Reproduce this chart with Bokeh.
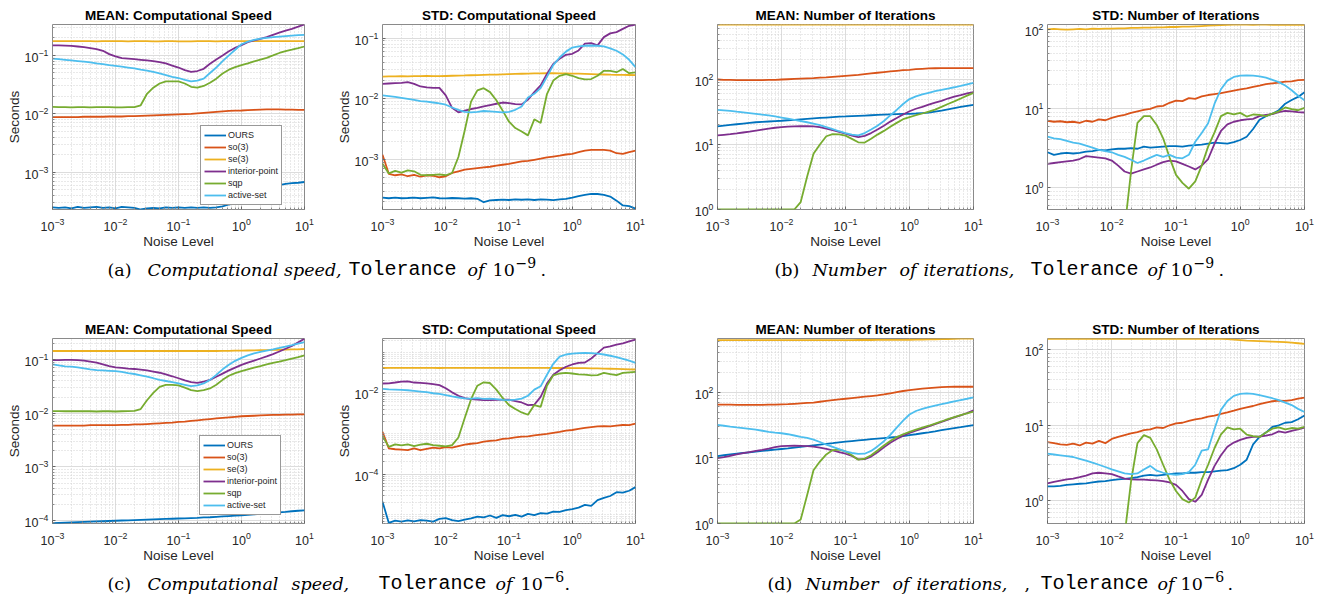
from bokeh.plotting import figure
from bokeh.layouts import column, row
from bokeh.models import Range1d, FixedTicker, Legend, LegendItem
from bokeh.core.properties import value
from bokeh.embed import file_html
from bokeh.resources import INLINE

NAN = float("nan")

# ---------------- data ----------------
NOISE_EXP = [-3.0, -2.9, -2.8, -2.7, -2.6, -2.5, -2.4, -2.3, -2.2, -2.1,
             -2.0, -1.9, -1.8, -1.7, -1.6, -1.5, -1.4, -1.3, -1.2, -1.1,
             -1.0, -0.9, -0.8, -0.7, -0.6, -0.5, -0.4, -0.3, -0.2, -0.1,
             0.0, 0.1, 0.2, 0.3, 0.4, 0.5, 0.6, 0.7, 0.8, 0.9,
             1.0]
NOISE = [10.0 ** e for e in NOISE_EXP]

METHODS = ["OURS", "so(3)", "se(3)", "interior-point", "sqp", "active-set"]
COLORS = ["#0072BD", "#D95319", "#EDB120", "#7E2F8E", "#77AC30", "#4DBEEE"]

X_TICKS = [1e-3, 1e-2, 1e-1, 1e0, 1e1]

# (a) MEAN computational speed, tolerance 1e-9
a_mean_ours = [2.50e-4, 2.45e-4, 2.50e-4, 2.40e-4, 2.55e-4, 2.45e-4, 2.50e-4, 2.55e-4, 2.45e-4, 2.50e-4,
               2.40e-4, 2.55e-4, 2.50e-4, 2.45e-4, 2.30e-4, 2.40e-4, 2.45e-4, 2.40e-4, 2.50e-4, 2.45e-4,
               2.50e-4, 2.45e-4, 2.50e-4, 2.45e-4, 2.50e-4, 2.45e-4, 2.50e-4, 2.60e-4, 2.80e-4, 3.00e-4,
               3.30e-4, 3.80e-4, 4.30e-4, 4.80e-4, 5.30e-4, 5.70e-4, 6.00e-4, 6.30e-4, 6.50e-4, 6.60e-4,
               6.80e-4]
a_mean_so3 = [0.0088, 0.0088, 0.0088, 0.0088, 0.0088, 0.0089, 0.0089, 0.0089, 0.0089, 0.0090,
              0.0090, 0.0090, 0.0091, 0.0091, 0.0092, 0.0093, 0.0094, 0.0095, 0.0096, 0.0097,
              0.0098, 0.0099, 0.0100, 0.0102, 0.0104, 0.0106, 0.0108, 0.0110, 0.0112, 0.0113,
              0.0114, 0.0116, 0.0117, 0.0118, 0.0119, 0.0119, 0.0119, 0.0118, 0.0118, 0.0117,
              0.0117]
a_mean_se3 = [0.176, 0.175, 0.175, 0.176, 0.175, 0.175, 0.175, 0.174, 0.175, 0.175,
              0.175, 0.175, 0.174, 0.175, 0.175, 0.175, 0.174, 0.174, 0.175, 0.175,
              0.174, 0.174, 0.174, 0.175, 0.175, 0.175, 0.174, 0.175, 0.175, 0.176,
              0.176, 0.176, 0.176, 0.175, 0.176, 0.176, 0.176, 0.175, 0.175, 0.175,
              0.175]
a_mean_ip = [0.148, 0.148, 0.147, 0.145, 0.142, 0.138, 0.133, 0.128, 0.120, 0.105,
             0.096, 0.090, 0.088, 0.086, 0.084, 0.082, 0.080, 0.077, 0.073, 0.067,
             0.062, 0.056, 0.052, 0.054, 0.059, 0.072, 0.085, 0.100, 0.118, 0.135,
             0.150, 0.168, 0.180, 0.192, 0.205, 0.225, 0.245, 0.265, 0.285, 0.310,
             0.338]
a_mean_sqp = [0.0131, 0.0130, 0.0130, 0.0129, 0.0130, 0.0130, 0.0129, 0.0130, 0.0130, 0.0130,
              0.0129, 0.0129, 0.0130, 0.0130, 0.0140, 0.0220, 0.0280, 0.0330, 0.0360, 0.0360,
              0.0360, 0.0330, 0.0290, 0.0280, 0.0300, 0.0340, 0.0400, 0.0490, 0.0570, 0.0630,
              0.0680, 0.0730, 0.0790, 0.0850, 0.0910, 0.1000, 0.1100, 0.1180, 0.1250, 0.1330,
              0.1420]
a_mean_as = [0.088, 0.086, 0.084, 0.082, 0.080, 0.078, 0.076, 0.073, 0.071, 0.068,
             0.066, 0.064, 0.062, 0.060, 0.057, 0.055, 0.052, 0.049, 0.046, 0.043,
             0.041, 0.038, 0.036, 0.037, 0.040, 0.050, 0.062, 0.080, 0.100, 0.125,
             0.155, 0.172, 0.185, 0.193, 0.200, 0.205, 0.210, 0.214, 0.218, 0.222,
             0.225]

# (a) STD computational speed, tolerance 1e-9
a_std_ours = [2.35e-4, 2.30e-4, 2.35e-4, 2.30e-4, 2.32e-4, 2.36e-4, 2.30e-4, 2.34e-4, 2.38e-4, 2.30e-4,
              2.28e-4, 2.32e-4, 2.30e-4, 2.26e-4, 2.30e-4, 2.25e-4, 1.98e-4, 2.12e-4, 2.15e-4, 2.18e-4,
              2.15e-4, 2.20e-4, 2.17e-4, 2.20e-4, 2.15e-4, 2.20e-4, 2.18e-4, 2.14e-4, 2.20e-4, 2.25e-4,
              2.35e-4, 2.50e-4, 2.62e-4, 2.72e-4, 2.70e-4, 2.62e-4, 2.45e-4, 2.10e-4, 1.75e-4, 1.70e-4,
              1.55e-4]
a_std_so3 = [1.20e-3, 5.80e-4, 5.50e-4, 5.70e-4, 5.30e-4, 5.60e-4, 5.20e-4, 5.50e-4, 5.40e-4, 5.10e-4,
             5.30e-4, 6.00e-4, 6.40e-4, 6.80e-4, 7.00e-4, 7.20e-4, 7.40e-4, 7.60e-4, 7.90e-4, 8.20e-4,
             8.50e-4, 8.90e-4, 9.30e-4, 9.50e-4, 9.90e-4, 1.03e-3, 1.08e-3, 1.12e-3, 1.16e-3, 1.21e-3,
             1.24e-3, 1.32e-3, 1.40e-3, 1.44e-3, 1.44e-3, 1.44e-3, 1.40e-3, 1.27e-3, 1.24e-3, 1.32e-3,
             1.40e-3]
a_std_se3 = [0.0233, 0.0235, 0.0234, 0.0236, 0.0235, 0.0237, 0.0236, 0.0238, 0.0237, 0.0236,
             0.0238, 0.0240, 0.0242, 0.0243, 0.0245, 0.0246, 0.0248, 0.0250, 0.0251, 0.0253,
             0.0255, 0.0257, 0.0259, 0.0260, 0.0262, 0.0263, 0.0264, 0.0264, 0.0263, 0.0262,
             0.0261, 0.0260, 0.0258, 0.0256, 0.0254, 0.0252, 0.0250, 0.0249, 0.0248, 0.0247,
             0.0246]
a_std_ip = [0.0177, 0.0179, 0.0181, 0.0183, 0.0188, 0.0177, 0.0160, 0.0154, 0.0152, 0.0152,
            0.0114, 0.0071, 0.0060, 0.0064, 0.0068, 0.0071, 0.0075, 0.0079, 0.0083, 0.0087,
            0.0085, 0.0082, 0.0081, 0.0097, 0.0129, 0.0166, 0.0258, 0.0377, 0.0457, 0.0531,
            0.0552, 0.0627, 0.0810, 0.0830, 0.0760, 0.1040, 0.1200, 0.1260, 0.1420, 0.1600,
            0.1680]
a_std_sqp = [8.5e-4, 5.9e-4, 6.5e-4, 6.1e-4, 6.6e-4, 6.4e-4, 5.6e-4, 5.5e-4, 5.6e-4, 5.7e-4,
             5.5e-4, 6.0e-4, 1.1e-3, 3.0e-3, 9.0e-3, 0.0138, 0.0150, 0.0129, 0.0095, 0.0064,
             0.0042, 0.0033, 0.0029, 0.0025, 0.0046, 0.0040, 0.0120, 0.0200, 0.0240, 0.0255,
             0.0240, 0.0220, 0.0210, 0.0212, 0.0240, 0.0290, 0.0290, 0.0275, 0.0310, 0.0265,
             0.0272]
a_std_as = [0.0114, 0.0111, 0.0108, 0.0104, 0.0100, 0.0096, 0.0092, 0.0090, 0.0087, 0.0084,
            0.0080, 0.0072, 0.0066, 0.0061, 0.0060, 0.0061, 0.0063, 0.0062, 0.0061, 0.0060,
            0.0061, 0.0066, 0.0075, 0.0105, 0.0121, 0.0150, 0.0230, 0.0360, 0.0480, 0.0600,
            0.0700, 0.0735, 0.0750, 0.0757, 0.0750, 0.0730, 0.0680, 0.0620, 0.0540, 0.0440,
            0.0333]

# (b) MEAN number of iterations, tolerance 1e-9
b_mean_ours = [19.0, 19.5, 20.0, 20.5, 21.0, 21.5, 22.0, 22.3, 22.6, 22.9,
               23.2, 23.6, 24.0, 24.4, 24.8, 25.2, 25.6, 26.0, 26.4, 26.8,
               27.0, 27.3, 27.6, 27.9, 28.2, 28.5, 28.8, 29.1, 29.3, 29.5,
               29.7, 30.0, 30.5, 31.0, 32.0, 33.3, 34.8, 36.3, 37.8, 39.3,
               40.8]
b_mean_so3 = [100, 99, 99, 98, 98, 98, 98, 98, 99, 99,
              100, 101, 102, 103, 104, 105, 107, 108, 110, 112,
              114, 116, 118, 121, 124, 127, 130, 133, 136, 139,
              141, 144, 146, 148, 149, 150, 150, 150, 150, 150,
              150]
b_mean_se3 = [700, 701, 700, 700, 699, 700, 701, 700, 700, 700,
              700, 701, 700, 700, 700, 699, 700, 700, 701, 700,
              700, 700, 700, 701, 700, 700, 700, 701, 702, 701,
              701, 702, 701, 701, 702, 702, 701, 702, 702, 701,
              701]
b_mean_ip = [13.8, 14.1, 14.4, 14.8, 15.3, 15.8, 16.4, 17.0, 17.6, 18.1,
             18.5, 18.8, 19.0, 19.1, 19.1, 19.0, 18.5, 17.6, 16.6, 15.6,
             14.7, 13.7, 13.0, 13.6, 15.0, 17.0, 19.5, 22.5, 25.5, 29.0,
             32.5, 35.5, 38.0, 41.0, 44.0, 47.0, 51.0, 54.5, 57.5, 61.0,
             64.0]
b_mean_sqp = [1.0, 1.0, 1.0, 1.0, 1.0, 1.0, 1.0, 1.0, 1.0, 1.0,
              1.0, 1.0, 1.0, 1.3, 3.2, 7.2, 10.0, 13.4, 14.4, 14.3,
              13.7, 12.2, 10.8, 10.7, 12.3, 14.2, 16.2, 18.8, 21.5, 24.5,
              26.4, 28.2, 30.0, 32.0, 34.5, 38.0, 42.0, 46.0, 51.0, 56.5,
              62.4]
b_mean_as = [34.2, 33.5, 32.8, 32.0, 31.3, 30.5, 29.7, 28.8, 28.0, 27.0,
             26.0, 25.0, 24.0, 23.0, 22.0, 21.0, 19.8, 18.5, 17.2, 16.0,
             15.0, 14.2, 13.8, 15.0, 17.0, 19.5, 23.0, 28.0, 34.0, 42.0,
             50.0, 55.0, 59.0, 62.5, 66.0, 69.0, 72.5, 76.0, 80.0, 84.5,
             89.0]

# (b) STD number of iterations, tolerance 1e-9
b_std_ours = [2.80, 2.60, 2.70, 2.75, 2.70, 2.75, 2.85, 2.90, 3.00, 2.95,
              3.05, 3.10, 3.10, 3.15, 3.10, 3.30, 3.20, 3.25, 3.30, 3.35,
              3.35, 3.30, 3.40, 3.45, 3.50, 3.60, 3.70, 3.65, 3.60, 3.75,
              4.00, 4.40, 5.50, 7.20, 8.00, 8.60, 9.50, 11.5, 12.8, 14.0,
              16.0]
b_std_so3 = [7.0, 6.8, 6.9, 6.7, 6.8, 6.6, 7.0, 6.8, 7.3, 7.1,
             7.6, 8.0, 8.3, 8.8, 9.2, 9.6, 9.9, 10.6, 10.8, 11.8,
             12.6, 12.4, 13.5, 13.2, 14.2, 14.8, 15.2, 15.6, 16.2, 16.8,
             17.4, 18.0, 18.8, 19.5, 20.3, 20.8, 21.2, 21.8, 22.0, 22.8,
             23.0]
b_std_se3 = [100, 101, 100, 99, 100, 101, 100, 102, 101, 102,
             102, 103, 103, 104, 104, 105, 105, 106, 106, 107,
             107, 108, 108, 109, 110, 111, 112, 113, 114, 115,
             115, 115, 114, 115, 115, 114, 114, 115, 114, 114,
             114]
b_std_ip = [2.00, 2.05, 2.10, 2.15, 2.20, 2.30, 2.50, 2.45, 2.40, 2.35,
            2.20, 1.90, 1.60, 1.50, 1.60, 1.70, 1.80, 1.95, 2.10, 2.20,
            2.15, 2.00, 1.85, 1.70, 1.90, 2.30, 3.60, 5.20, 6.30, 6.80,
            7.10, 7.30, 7.40, 8.00, 8.30, 8.50, 9.00, 9.30, 9.20, 9.00,
            8.90]
b_std_sqp = [NAN, NAN, NAN, NAN, NAN, NAN, NAN, NAN, NAN, NAN,
             NAN, NAN, 0.30, 1.6, 6.6, 8.0, 8.0, 6.2, 4.2, 2.4,
             1.45, 1.15, 0.97, 1.2, 1.9, 3.3, 5.0, 8.0, 8.8, 8.4,
             8.8, 7.9, 8.4, 8.3, 8.0, 8.6, 9.2, 10.3, 9.8, 9.5,
             10.2]
b_std_as = [4.4, 4.2, 4.1, 3.9, 3.7, 3.6, 3.4, 3.2, 3.0, 2.9,
            2.8, 2.6, 2.45, 2.25, 2.05, 2.2, 2.4, 2.6, 2.45, 2.6,
            2.4, 2.35, 2.6, 3.8, 4.9, 6.5, 11.5, 17.5, 22.5, 25.0,
            26.0, 26.2, 26.0, 25.5, 24.5, 23.0, 21.5, 19.5, 17.0, 14.5,
            12.7]

# (c) MEAN computational speed, tolerance 1e-6
c_mean_ours = [8.9e-5, 9.0e-5, 9.1e-5, 9.2e-5, 9.3e-5, 9.4e-5, 9.5e-5, 9.6e-5, 9.7e-5, 9.8e-5,
               9.9e-5, 1.00e-4, 1.01e-4, 1.02e-4, 1.03e-4, 1.04e-4, 1.05e-4, 1.06e-4, 1.07e-4, 1.08e-4,
               1.09e-4, 1.10e-4, 1.11e-4, 1.12e-4, 1.14e-4, 1.15e-4, 1.17e-4, 1.19e-4, 1.21e-4, 1.23e-4,
               1.25e-4, 1.27e-4, 1.30e-4, 1.33e-4, 1.36e-4, 1.39e-4, 1.42e-4, 1.45e-4, 1.49e-4, 1.52e-4,
               1.55e-4]
c_mean_so3 = [0.0059, 0.0059, 0.0059, 0.0059, 0.0059, 0.0059, 0.0060, 0.0060, 0.0060, 0.0060,
              0.0060, 0.0061, 0.0061, 0.0062, 0.0062, 0.0063, 0.0064, 0.0065, 0.0066, 0.0067,
              0.0069, 0.0070, 0.0072, 0.0074, 0.0076, 0.0078, 0.0080, 0.0082, 0.0084, 0.0086,
              0.0088, 0.0089, 0.0090, 0.0091, 0.0092, 0.0093, 0.0093, 0.0094, 0.0094, 0.0095,
              0.0095]
c_mean_se3 = [0.145, 0.145, 0.145, 0.145, 0.145, 0.145, 0.145, 0.145, 0.145, 0.145,
              0.145, 0.145, 0.145, 0.145, 0.145, 0.145, 0.145, 0.145, 0.145, 0.145,
              0.145, 0.145, 0.145, 0.145, 0.145, 0.145, 0.145, 0.146, 0.146, 0.147,
              0.147, 0.148, 0.149, 0.150, 0.151, 0.152, 0.153, 0.154, 0.155, 0.156,
              0.158]
c_mean_ip = [0.098, 0.098, 0.099, 0.099, 0.098, 0.096, 0.092, 0.088, 0.082, 0.076,
             0.072, 0.070, 0.068, 0.067, 0.065, 0.063, 0.060, 0.057, 0.053, 0.049,
             0.045, 0.041, 0.038, 0.037, 0.039, 0.042, 0.048, 0.055, 0.063, 0.071,
             0.080, 0.088, 0.096, 0.105, 0.115, 0.127, 0.142, 0.160, 0.180, 0.210,
             0.246]
c_mean_sqp = [0.0110, 0.0110, 0.0109, 0.0109, 0.0109, 0.0110, 0.0109, 0.0108, 0.0109, 0.0109,
              0.0108, 0.0109, 0.0110, 0.0111, 0.0120, 0.0175, 0.0240, 0.0310, 0.0340, 0.0340,
              0.0330, 0.0300, 0.0270, 0.0260, 0.0270, 0.0290, 0.0340, 0.0420, 0.0500, 0.0560,
              0.0610, 0.0660, 0.0710, 0.0760, 0.0820, 0.0870, 0.0920, 0.0980, 0.1050, 0.1120,
              0.1200]
c_mean_as = [0.082, 0.078, 0.075, 0.074, 0.072, 0.069, 0.066, 0.064, 0.063, 0.062,
             0.061, 0.059, 0.056, 0.054, 0.051, 0.048, 0.045, 0.042, 0.040, 0.038,
             0.036, 0.034, 0.032, 0.033, 0.036, 0.042, 0.052, 0.066, 0.080, 0.095,
             0.108, 0.120, 0.131, 0.140, 0.148, 0.156, 0.165, 0.175, 0.187, 0.200,
             0.213]

# (c) STD computational speed, tolerance 1e-6
c_std_ours = [2.1e-5, 6.3e-6, 7.2e-6, 6.8e-6, 7.3e-6, 6.9e-6, 7.4e-6, 7.2e-6, 6.8e-6, 7.9e-6,
              8.3e-6, 7.4e-6, 7.0e-6, 7.6e-6, 8.2e-6, 9.0e-6, 8.6e-6, 9.6e-6, 8.4e-6, 9.8e-6,
              9.2e-6, 1.0e-5, 9.0e-6, 1.05e-5, 9.8e-6, 1.1e-5, 1.07e-5, 1.2e-5, 1.18e-5, 1.3e-5,
              1.38e-5, 1.5e-5, 1.75e-5, 1.65e-5, 2.3e-5, 2.6e-5, 2.9e-5, 3.6e-5, 3.5e-5, 3.9e-5,
              4.8e-5]
c_std_so3 = [1.1e-3, 4.3e-4, 4.1e-4, 4.0e-4, 3.9e-4, 4.3e-4, 3.9e-4, 4.2e-4, 4.5e-4, 4.3e-4,
             4.6e-4, 4.5e-4, 4.9e-4, 5.3e-4, 5.6e-4, 5.8e-4, 6.3e-4, 6.6e-4, 6.8e-4, 7.4e-4,
             7.6e-4, 8.0e-4, 8.4e-4, 8.5e-4, 9.0e-4, 9.4e-4, 9.8e-4, 1.04e-3, 1.1e-3, 1.18e-3,
             1.22e-3, 1.3e-3, 1.38e-3, 1.44e-3, 1.5e-3, 1.52e-3, 1.5e-3, 1.56e-3, 1.62e-3, 1.6e-3,
             1.75e-3]
c_std_se3 = [0.0410, 0.0412, 0.0411, 0.0413, 0.0412, 0.0411, 0.0412, 0.0413, 0.0412, 0.0410,
             0.0411, 0.0412, 0.0413, 0.0412, 0.0411, 0.0412, 0.0413, 0.0412, 0.0411, 0.0412,
             0.0412, 0.0413, 0.0412, 0.0411, 0.0412, 0.0412, 0.0411, 0.0410, 0.0411, 0.0410,
             0.0409, 0.0408, 0.0405, 0.0402, 0.0399, 0.0396, 0.0393, 0.0390, 0.0386, 0.0381,
             0.0376]
c_std_ip = [0.0170, 0.0172, 0.0180, 0.0190, 0.0192, 0.0180, 0.0176, 0.0172, 0.0165, 0.0155,
            0.0130, 0.0103, 0.0085, 0.0074, 0.0070, 0.0068, 0.0066, 0.0066, 0.0067, 0.0068,
            0.0068, 0.0063, 0.0058, 0.0050, 0.0051, 0.0080, 0.0170, 0.0280, 0.0360, 0.0440,
            0.0500, 0.0550, 0.0560, 0.0700, 0.0950, 0.1300, 0.1400, 0.1550, 0.1650, 0.1850,
            0.2050]
c_std_sqp = [8.6e-4, 4.7e-4, 5.4e-4, 5.1e-4, 5.4e-4, 4.9e-4, 5.3e-4, 5.6e-4, 5.2e-4, 5.0e-4,
             4.8e-4, 5.2e-4, 8.0e-4, 2.4e-3, 7.0e-3, 0.0150, 0.0182, 0.0175, 0.0120, 0.0075,
             0.0050, 0.0040, 0.0033, 0.0029, 0.0050, 0.0045, 0.0150, 0.0270, 0.0300, 0.0310,
             0.0300, 0.0285, 0.0280, 0.0270, 0.0275, 0.0310, 0.0290, 0.0275, 0.0310, 0.0320,
             0.0330]
c_std_as = [0.0125, 0.0122, 0.0120, 0.0118, 0.0116, 0.0112, 0.0108, 0.0104, 0.0098, 0.0094,
            0.0088, 0.0082, 0.0077, 0.0073, 0.0072, 0.0074, 0.0071, 0.0072, 0.0070, 0.0067,
            0.0066, 0.0068, 0.0072, 0.0085, 0.0120, 0.0145, 0.0280, 0.0520, 0.0780, 0.0880,
            0.0920, 0.0950, 0.0960, 0.0950, 0.0920, 0.0880, 0.0820, 0.0760, 0.0690, 0.0620,
            0.0550]

# (d) MEAN number of iterations, tolerance 1e-6
d_mean_ours = [10.7, 11.0, 11.3, 11.6, 11.9, 12.2, 12.5, 12.8, 13.1, 13.4,
               13.7, 14.0, 14.4, 14.8, 15.2, 15.6, 16.0, 16.4, 16.8, 17.3,
               17.7, 18.1, 18.5, 18.9, 19.3, 19.7, 20.1, 20.5, 21.0, 21.6,
               22.3, 23.0, 23.8, 24.6, 25.5, 26.5, 27.5, 28.5, 29.5, 30.6,
               31.7]
d_mean_so3 = [65.0, 65.0, 65.0, 64.5, 64.5, 64.5, 64.5, 64.5, 65.0, 65.0,
              65.5, 66.0, 67.0, 68.0, 69.0, 70.0, 72.0, 74.0, 76.0, 78.0,
              80.0, 82.0, 84.0, 86.0, 88.0, 90.0, 93.0, 97.0, 101, 105,
              108, 111, 114, 116, 118, 120, 121, 122, 122, 122,
              122]
d_mean_se3 = [628, 628, 629, 628, 628, 629, 628, 628, 628, 629,
              628, 628, 629, 628, 628, 628, 629, 628, 628, 629,
              629, 629, 630, 630, 630, 631, 631, 632, 633, 634,
              636, 638, 641, 644, 647, 650, 653, 656, 659, 662,
              664]
d_mean_ip = [9.9, 10.3, 10.8, 11.3, 11.8, 12.3, 12.8, 13.3, 13.9, 14.6,
             15.1, 15.3, 15.4, 15.3, 15.1, 14.9, 14.4, 13.8, 13.0, 12.3,
             11.6, 10.7, 9.5, 9.6, 10.5, 12.2, 14.5, 17.0, 19.5, 21.8,
             24.0, 26.0, 28.0, 30.3, 32.8, 35.5, 38.5, 41.5, 44.5, 48.5,
             53.5]
d_mean_sqp = [1.0, 1.0, 1.0, 1.0, 1.0, 1.0, 1.0, 1.0, 1.0, 1.0,
              1.0, 1.0, 1.0, 1.15, 2.7, 6.5, 8.8, 11.3, 13.2, 13.4,
              12.6, 11.0, 9.4, 9.8, 11.0, 13.0, 15.5, 18.2, 20.8, 23.0,
              25.0, 27.0, 29.0, 31.0, 33.5, 36.0, 39.0, 42.0, 45.0, 48.0,
              51.0]
d_mean_as = [31.9, 31.0, 30.0, 29.2, 28.5, 27.8, 27.0, 26.0, 25.0, 24.3,
             23.8, 23.0, 22.0, 21.0, 20.2, 19.0, 17.5, 16.0, 14.8, 13.6,
             12.6, 11.9, 11.5, 11.6, 12.8, 15.0, 18.0, 22.5, 29.0, 37.0,
             46.0, 52.0, 56.0, 59.5, 63.0, 66.0, 69.5, 73.0, 76.5, 80.0,
             84.0]

# (d) STD number of iterations, tolerance 1e-6
d_std_ours = [1.55, 1.55, 1.58, 1.62, 1.65, 1.68, 1.70, 1.75, 1.80, 1.82,
              1.88, 1.92, 1.95, 2.00, 2.05, 2.15, 2.20, 2.15, 2.20, 2.25,
              2.30, 2.30, 2.35, 2.35, 2.40, 2.40, 2.45, 2.50, 2.55, 2.70,
              3.00, 3.50, 5.60, 7.00, 8.00, 9.50, 10.0, 10.8, 11.0, 12.0,
              13.5]
d_std_so3 = [6.0, 5.8, 5.6, 5.5, 5.7, 5.4, 5.9, 5.7, 6.2, 5.8,
             6.6, 7.0, 7.4, 7.8, 8.1, 8.6, 8.8, 9.4, 9.2, 10.0,
             10.6, 10.8, 11.4, 12.0, 12.3, 13.0, 13.4, 14.2, 14.8, 15.6,
             16.5, 17.3, 18.0, 19.0, 20.0, 20.8, 21.2, 21.0, 21.6, 22.5,
             23.2]
d_std_se3 = [140, 139, 140, 141, 140, 139, 140, 140, 141, 140,
             139, 140, 140, 141, 140, 140, 139, 140, 141, 140,
             140, 140, 139, 140, 140, 140, 139, 139, 138, 136,
             134, 132, 131, 130, 129, 128, 127, 126, 124, 122,
             120]
d_std_ip = [1.70, 1.78, 1.85, 1.92, 1.97, 2.05, 2.15, 2.30, 2.35, 2.30,
            2.25, 2.10, 1.97, 1.92, 1.90, 1.90, 1.88, 1.86, 1.82, 1.75,
            1.62, 1.35, 1.05, 0.97, 1.20, 1.90, 2.90, 4.00, 5.20, 5.90,
            6.40, 6.80, 7.00, 7.10, 7.30, 7.60, 8.30, 8.00, 8.40, 8.80,
            9.30]
d_std_sqp = [NAN, NAN, NAN, NAN, NAN, NAN, NAN, NAN, NAN, NAN,
             NAN, NAN, 0.35, 1.8, 5.8, 7.4, 6.8, 4.8, 3.0, 1.9,
             1.35, 1.05, 0.95, 1.1, 1.9, 3.0, 5.0, 7.6, 9.4, 8.8,
             9.0, 7.5, 7.2, 7.0, 8.0, 9.0, 9.4, 8.8, 9.2, 9.0,
             9.5]
d_std_as = [4.2, 4.1, 4.0, 3.9, 3.8, 3.6, 3.4, 3.2, 3.0, 2.8,
            2.6, 2.45, 2.3, 2.25, 2.3, 2.6, 2.9, 2.5, 2.35, 2.25,
            2.2, 2.25, 2.4, 3.0, 4.6, 4.8, 9.0, 16.0, 21.0, 24.5,
            26.0, 26.5, 26.0, 25.0, 24.0, 22.8, 21.5, 20.0, 18.5, 16.5,
            15.0]

TITLES = ["MEAN: Computational Speed", "STD: Computational Speed",
          "MEAN: Number of Iterations", "STD: Number of Iterations"]
X_LABEL = "Noise Level"
Y_LABEL = "Seconds"

PANELS = [
    dict(title=TITLES[0], series=[a_mean_ours, a_mean_so3, a_mean_se3, a_mean_ip, a_mean_sqp, a_mean_as],
         ylim=(2.3e-4, 0.338), yticks=[1e-3, 1e-2, 1e-1], ydec=(-4, 0), ylabel=Y_LABEL, legend=(148, 4)),
    dict(title=TITLES[1], series=[a_std_ours, a_std_so3, a_std_se3, a_std_ip, a_std_sqp, a_std_as],
         ylim=(1.5e-4, 0.168), yticks=[1e-3, 1e-2, 1e-1], ydec=(-4, 0), ylabel=Y_LABEL, legend=None),
    dict(title=TITLES[2], series=[b_mean_ours, b_mean_so3, b_mean_se3, b_mean_ip, b_mean_sqp, b_mean_as],
         ylim=(1.0, 702), yticks=[1, 10, 100], ydec=(0, 2), ylabel=None, legend=None),
    dict(title=TITLES[3], series=[b_std_ours, b_std_so3, b_std_se3, b_std_ip, b_std_sqp, b_std_as],
         ylim=(0.53, 115), yticks=[1, 10, 100], ydec=(-1, 2), ylabel=None, legend=None),
    dict(title=TITLES[0], series=[c_mean_ours, c_mean_so3, c_mean_se3, c_mean_ip, c_mean_sqp, c_mean_as],
         ylim=(8.8e-5, 0.248), yticks=[1e-4, 1e-3, 1e-2, 1e-1], ydec=(-5, 0), ylabel=Y_LABEL, legend=(147, 8)),
    dict(title=TITLES[1], series=[c_std_ours, c_std_so3, c_std_se3, c_std_ip, c_std_sqp, c_std_as],
         ylim=(6.1e-6, 0.218), yticks=[1e-4, 1e-2], ydec=(-6, 0), ylabel=Y_LABEL, legend=None),
    dict(title=TITLES[2], series=[d_mean_ours, d_mean_so3, d_mean_se3, d_mean_ip, d_mean_sqp, d_mean_as],
         ylim=(1.0, 664), yticks=[1, 10, 100], ydec=(0, 2), ylabel=None, legend=None),
    dict(title=TITLES[3], series=[d_std_ours, d_std_so3, d_std_se3, d_std_ip, d_std_sqp, d_std_as],
         ylim=(0.50, 141), yticks=[1, 10, 100], ydec=(-1, 2), ylabel=None, legend=None),
]

# caption segments: (text, x position, style)
CAPTION_A = [("(a)", 107, "rm"), ("Computational speed,", 147, "it"),
             ("Tolerance", 348, "tt"), ("of", 467, "it"), ("10", 492, "rm"), ("\u22129", 515, "sup"),
             (".", 540, "rm")]
CAPTION_B = [("(b)", 774, "rm"), ("Number", 812, "it"), ("of", 899, "it"), ("iterations,", 923, "it"),
             ("Tolerance", 1030, "tt"), ("of", 1147, "it"), ("10", 1170, "rm"), ("\u22129", 1193, "sup"),
             (".", 1218, "rm")]
CAPTION_C = [("(c)", 107, "rm"), ("Computational", 147, "it"), ("speed,", 291, "it"),
             ("Tolerance", 378, "tt"), ("of", 495, "it"), ("10", 520, "rm"), ("\u22126", 543, "sup"),
             (".", 564, "rm")]
CAPTION_D = [("(d)", 767, "rm"), ("Number", 805, "it"), ("of", 892, "it"), ("iterations,", 916, "it"),
             (",", 1024, "rm"), ("Tolerance", 1040, "tt"), ("of", 1157, "it"), ("10", 1180, "rm"),
             ("\u22126", 1203, "sup"), (".", 1227, "rm")]

# ---------------- styling / layout ----------------
SANS = "Liberation Sans"
TXT = "#262626"
# (frame width, left border, right border)
COLS = [(252, 52, 26), (253, 52, 25), (256, 57, 17), (257, 57, 20)]
# (frame height, top border, bottom border)
ROW1 = (185, 24, 44)
ROW2 = (185, 25, 44)


def minors(lo, hi, majors):
    out = []
    for k in range(lo, hi + 1):
        for m in range(1, 10):
            v = m * 10.0 ** k
            if not any(abs(v - t) / t < 1e-9 for t in majors):
                out.append(v)
    return out


def make_panel(cfg, col, rowg):
    fw, bl, br = col
    fh, bt, bb = rowg
    p = figure(frame_width=fw, frame_height=fh, x_axis_type="log", y_axis_type="log",
               x_range=Range1d(1e-3, 10), y_range=Range1d(*cfg["ylim"]),
               output_backend="svg", toolbar_location=None,
               min_border_left=bl, min_border_right=br, min_border_top=bt, min_border_bottom=bb,
               background_fill_color="white", border_fill_color="white")
    p.title.text = cfg["title"]
    p.title.align = "center"
    p.title.text_font = SANS
    p.title.text_font_size = "13.5px"
    p.title.text_font_style = "bold"
    p.title.text_color = "#000000"
    p.title.standoff = 3

    p.xaxis.ticker = FixedTicker(ticks=X_TICKS, minor_ticks=minors(-3, 0, X_TICKS))
    p.yaxis.ticker = FixedTicker(ticks=cfg["yticks"],
                                 minor_ticks=minors(cfg["ydec"][0], cfg["ydec"][1], cfg["yticks"]))

    for ax in (p.xaxis, p.yaxis):
        ax.axis_line_color = None
        ax.major_tick_in = 3
        ax.major_tick_out = 0
        ax.minor_tick_in = 2
        ax.minor_tick_out = 0
        ax.major_tick_line_color = "#666666"
        ax.minor_tick_line_color = "#888888"
        ax.major_label_text_font = SANS
        ax.major_label_text_font_size = "12.5px"
        ax.major_label_text_color = TXT
        ax.axis_label_text_font = SANS
        ax.axis_label_text_font_size = "13.5px"
        ax.axis_label_text_font_style = "normal"
        ax.axis_label_text_color = TXT
    p.xaxis.axis_label = X_LABEL
    p.xaxis.major_label_standoff = 8
    p.xaxis.axis_label_standoff = 0
    p.yaxis.major_label_standoff = 4
    p.yaxis.axis_label_standoff = 0
    if cfg["ylabel"]:
        p.yaxis.axis_label = cfg["ylabel"]

    p.grid.grid_line_color = "#dcdcdc"
    p.grid.grid_line_width = 1
    p.grid.minor_grid_line_color = "#d2d2d2"
    p.grid.minor_grid_line_dash = "1 2"
    p.grid.minor_grid_line_width = 1
    p.outline_line_color = "#8a8a8a"
    p.outline_line_width = 1

    rends = []
    for vals, color in zip(cfg["series"], COLORS):
        rends.append(p.line(NOISE, vals, line_color=color, line_width=1.8))

    if cfg["legend"] is not None:
        lg = Legend(items=[LegendItem(label=m, renderers=[r]) for m, r in zip(METHODS, rends)],
                    location=cfg["legend"], margin=0, padding=3, spacing=0,
                    glyph_width=22, glyph_height=12, label_height=12, label_standoff=2,
                    label_text_font=SANS, label_text_font_size="9px", label_text_color=TXT,
                    border_line_color="#333333", border_line_width=1,
                    background_fill_color="white", background_fill_alpha=1.0)
        p.add_layout(lg)
    return p


STYLES = {
    "rm": dict(text_font=value("DejaVu Serif"), text_font_size="17.5px", text_font_style="normal", dy=0),
    "it": dict(text_font=value("DejaVu Serif"), text_font_size="17.5px", text_font_style="italic", dy=0),
    "tt": dict(text_font=value("Liberation Mono"), text_font_size="20px", text_font_style="normal", dy=0),
    "sup": dict(text_font=value("DejaVu Serif"), text_font_size="14px", text_font_style="normal", dy=7),
}


def make_caption(segs_list, width, height, base_y):
    p = figure(width=width, height=height, x_range=Range1d(0, width), y_range=Range1d(0, height),
               x_axis_location=None, y_axis_location=None, output_backend="svg",
               toolbar_location=None, min_border=0, outline_line_color=None,
               background_fill_color="white", border_fill_color="white")
    for g in p.grid:
        g.visible = False
    for segs in segs_list:
        for key, st in STYLES.items():
            items = [(t, x) for (t, x, s) in segs if s == key]
            if not items:
                continue
            p.text(x=[x for _, x in items], y=[base_y + st["dy"]] * len(items),
                   text=[t for t, _ in items], text_font=st["text_font"],
                   text_font_size=st["text_font_size"], text_font_style=st["text_font_style"],
                   text_color="#000000", text_align="left", text_baseline="alphabetic")
    return p


TOTAL_W = sum(c[0] + c[1] + c[2] for c in COLS)
figs1 = [make_panel(PANELS[i], COLS[i], ROW1) for i in range(4)]
figs2 = [make_panel(PANELS[4 + i], COLS[i], ROW2) for i in range(4)]
cap1 = make_caption([CAPTION_A, CAPTION_B], TOTAL_W, 60, 44)
cap2 = make_caption([CAPTION_C, CAPTION_D], TOTAL_W, 35, 19)

layout = column(row(*figs1), cap1, row(*figs2), cap2)
open("out.html", "w").write(file_html(layout, INLINE))
